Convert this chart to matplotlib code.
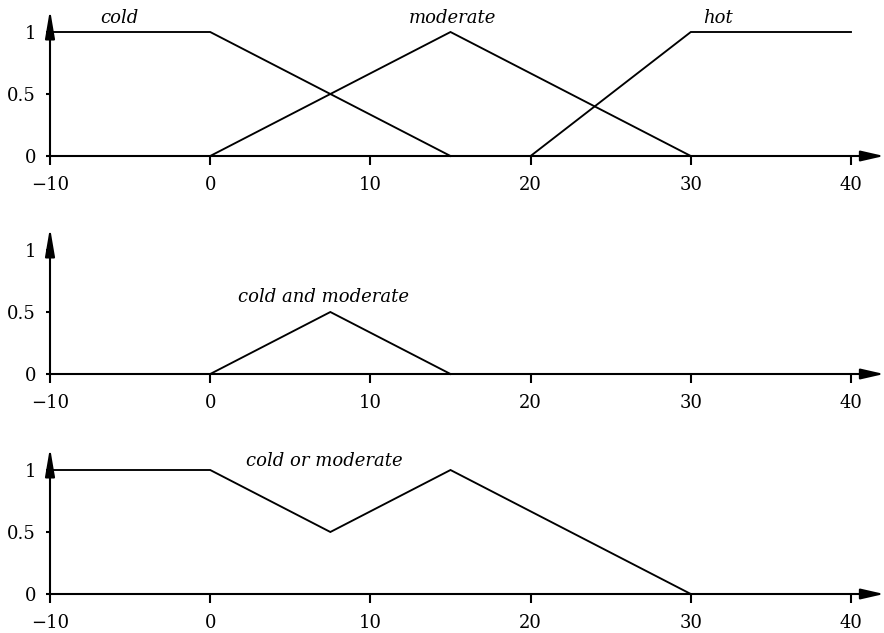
import matplotlib.pyplot as plt

# breakpoints
cold_x = [-10, 0, 15]
cold_y = [1, 1, 0]
moderate_x = [0, 15, 30]
moderate_y = [0, 1, 0]
hot_x = [20, 30, 40]
hot_y = [0, 1, 1]
and_x = [0, 7.5, 15]
and_y = [0, 0.5, 0]
or_x = [-10, 0, 7.5, 15, 30]
or_y = [1, 1, 0.5, 1, 0]

x_ticks = [-10, 0, 10, 20, 30, 40]
y_ticks_full = [0, 0.5, 1]
y_tick_labels = ["0", "0.5", "1"]

plt.rcParams['font.family'] = ['DejaVu Serif']

fig = plt.figure(figsize=(8.84, 6.33), dpi=100)

W, H = 884, 633
x_left_px = 50
y_top = 1.18
unit_px = 124
panel_zero_px = [156, 374, 594]   # pixel row of y=0 in each panel
x_max = 42.06


def make_axes(zero_px):
    bottom = (H - zero_px) / H
    height = y_top * unit_px / H
    ax = fig.add_axes([x_left_px / W, bottom, (W - x_left_px) / W, height])
    ax.set_xlim(-10, x_max)
    ax.set_ylim(0, y_top)
    for s in ax.spines.values():
        s.set_visible(False)
    ax.set_xticks(x_ticks)
    ax.set_xticklabels([str(t).replace('-', '\u2212') for t in x_ticks])
    ax.set_yticks(y_ticks_full)
    ax.set_yticklabels(y_tick_labels)
    ax.tick_params(axis='x', direction='out', length=6.5, width=1.5, pad=8, labelsize=13)
    ax.tick_params(axis='y', direction='out', length=3, width=1.5, pad=7, labelsize=13)
    # axes with arrow heads
    ax.annotate('', xy=(x_max, 0), xytext=(-10, 0),
                arrowprops=dict(arrowstyle='-|>,head_length=1.4,head_width=0.32',
                                mutation_scale=10, lw=1.5, color='black',
                                shrinkA=0, shrinkB=0),
                annotation_clip=False)
    ax.annotate('', xy=(-10, y_top), xytext=(-10, 0),
                arrowprops=dict(arrowstyle='-|>,head_length=1.7,head_width=0.29',
                                mutation_scale=10, lw=1.5, color='black',
                                shrinkA=0, shrinkB=0),
                annotation_clip=False)
    return ax


line_kw = dict(color='black', lw=1.35, clip_on=False, solid_joinstyle='miter')
text_kw = dict(fontsize=13, style='italic', ha='center', va='center')

ax1 = make_axes(panel_zero_px[0])
ax1.plot(cold_x, cold_y, **line_kw)
ax1.plot(moderate_x, moderate_y, **line_kw)
ax1.plot(hot_x, hot_y, **line_kw)
ax1.text(-5.7, 1.11, "cold", **text_kw)
ax1.text(15.1, 1.11, "moderate", **text_kw)
ax1.text(31.7, 1.11, "hot", **text_kw)

ax2 = make_axes(panel_zero_px[1])
ax2.plot(and_x, and_y, **line_kw)
ax2.text(7.1, 0.62, "cold and moderate", **text_kw)

ax3 = make_axes(panel_zero_px[2])
ax3.plot(or_x, or_y, **line_kw)
ax3.text(7.1, 1.07, "cold or moderate", **text_kw)

fig.savefig("out.png", dpi=100)
